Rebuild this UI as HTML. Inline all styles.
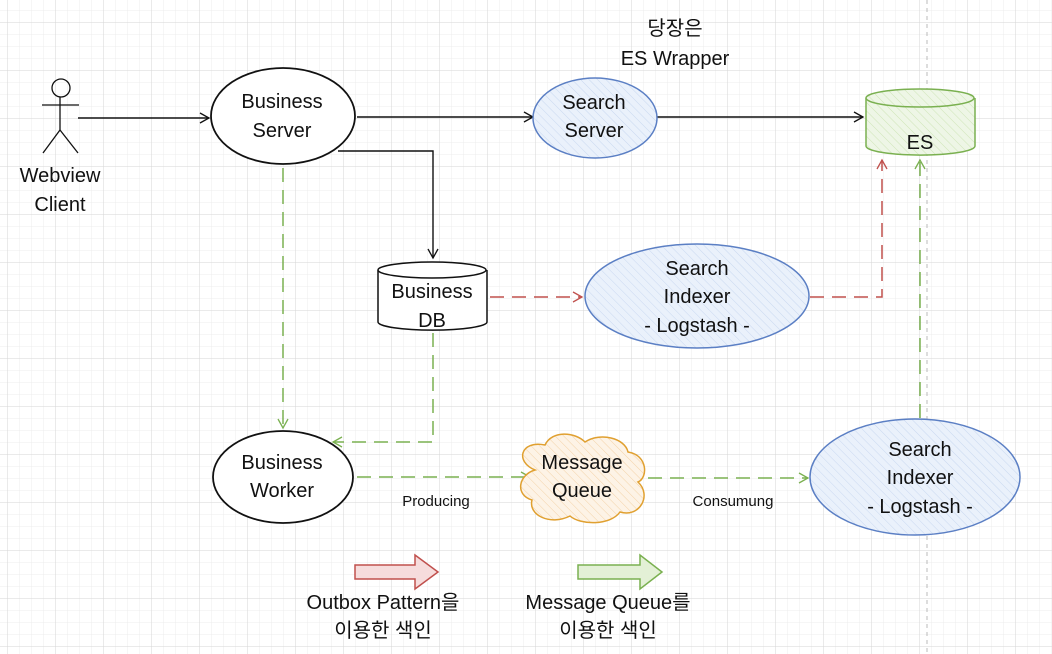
<!DOCTYPE html>
<html><head><meta charset="utf-8"><style>
html,body{margin:0;padding:0;background:#fff;width:1052px;height:654px;overflow:hidden}
text{font-family:"Liberation Sans","Noto Sans CJK KR",sans-serif;fill:#111}
</style></head><body>
<svg width="1052" height="654" viewBox="0 0 1052 654" xmlns="http://www.w3.org/2000/svg">
<defs>
<pattern id="minor" width="12" height="12" patternUnits="userSpaceOnUse" x="7" y="22">
<path d="M0 0H12M0 0V12" stroke="#ececec" stroke-width="1" fill="none"/></pattern>
<pattern id="major" width="48" height="48" patternUnits="userSpaceOnUse" x="7" y="22">
<path d="M0 0H48M0 0V48" stroke="#d6d6d6" stroke-width="1" fill="none"/></pattern>
<pattern id="hb" width="6" height="6" patternUnits="userSpaceOnUse" patternTransform="rotate(-45)">
<rect width="6" height="6" fill="#eaf1fb"/><line x1="0" y1="0" x2="0" y2="6" stroke="#c9d8f0" stroke-width="1"/></pattern>
<pattern id="ho" width="6" height="6" patternUnits="userSpaceOnUse" patternTransform="rotate(-45)">
<rect width="6" height="6" fill="#fdf3e6"/><line x1="0" y1="0" x2="0" y2="6" stroke="#f3d2a8" stroke-width="1"/></pattern>
<pattern id="hg" width="6" height="6" patternUnits="userSpaceOnUse" patternTransform="rotate(-45)">
<rect width="6" height="6" fill="#eef6e6"/><line x1="0" y1="0" x2="0" y2="6" stroke="#cfe5b8" stroke-width="1"/></pattern>
<marker id="ak" markerWidth="12" markerHeight="12" refX="10" refY="6" orient="auto" markerUnits="userSpaceOnUse"><path d="M1 1L10 6L1 11" fill="none" stroke="#111" stroke-width="1.3"/></marker>
<marker id="ag" markerWidth="12" markerHeight="12" refX="10" refY="6" orient="auto" markerUnits="userSpaceOnUse"><path d="M1 1L10 6L1 11" fill="none" stroke="#7ab050" stroke-width="1.3"/></marker>
<marker id="ar" markerWidth="12" markerHeight="12" refX="10" refY="6" orient="auto" markerUnits="userSpaceOnUse"><path d="M1 1L10 6L1 11" fill="none" stroke="#c0504d" stroke-width="1.3"/></marker>
</defs>
<rect width="1052" height="654" fill="url(#minor)"/>
<rect width="1052" height="654" fill="url(#major)"/>
<line x1="927" y1="0" x2="927" y2="654" stroke="#bbb" stroke-dasharray="4 4"/>

<g stroke="#111" stroke-width="1.3" fill="none">
<ellipse cx="61" cy="88" rx="9" ry="9"/>
<line x1="60" y1="97" x2="60" y2="130"/>
<line x1="42" y1="105" x2="79" y2="105"/>
<path d="M60 130L43 153M60 130L78 153"/>
</g>
<text x="60" y="182" font-size="20" text-anchor="middle">Webview</text>
<text x="60" y="211" font-size="20" text-anchor="middle">Client</text>

<g stroke="#111" stroke-width="1.4" fill="none">
<line x1="78" y1="118" x2="209" y2="118" marker-end="url(#ak)"/>
<line x1="357" y1="117" x2="533" y2="117" marker-end="url(#ak)"/>
<line x1="657" y1="117" x2="863" y2="117" marker-end="url(#ak)"/>
<path d="M338 151H433V258" marker-end="url(#ak)"/>
</g>

<g stroke="#7ab050" stroke-width="1.5" fill="none" stroke-dasharray="14 8">
<line x1="283" y1="168" x2="283" y2="428" marker-end="url(#ag)"/>
<path d="M433 333V442H333" marker-end="url(#ag)"/>
<line x1="357" y1="477" x2="530" y2="477" marker-end="url(#ag)"/>
<line x1="648" y1="478" x2="808" y2="478" marker-end="url(#ag)"/>
<line x1="920" y1="418" x2="920" y2="160" marker-end="url(#ag)"/>
</g>
<g stroke="#c0504d" stroke-width="1.5" fill="none" stroke-dasharray="14 8">
<line x1="490" y1="297" x2="582" y2="297" marker-end="url(#ar)"/>
<path d="M810 297H882V160" marker-end="url(#ar)"/>
</g>

<ellipse cx="283" cy="116" rx="72" ry="48" fill="#fff" stroke="#111" stroke-width="1.8"/>
<text x="282" y="108" font-size="20" text-anchor="middle">Business</text>
<text x="282" y="137" font-size="20" text-anchor="middle">Server</text>

<ellipse cx="595" cy="118" rx="62" ry="40" fill="url(#hb)" stroke="#5b7fc4" stroke-width="1.5"/>
<text x="594" y="109" font-size="20" text-anchor="middle">Search</text>
<text x="594" y="137" font-size="20" text-anchor="middle">Server</text>

<text x="675" y="35" font-size="20" text-anchor="middle">당장은</text>
<text x="675" y="65" font-size="20" text-anchor="middle">ES Wrapper</text>

<path d="M866 98V146A54 9 0 0 0 975 146V98" fill="url(#hg)" stroke="#7ab050" stroke-width="1.5"/>
<ellipse cx="920" cy="98" rx="54" ry="9" fill="url(#hg)" stroke="#7ab050" stroke-width="1.5"/>
<text x="920" y="149" font-size="20" text-anchor="middle">ES</text>

<path d="M378 270V322A54 8 0 0 0 487 322V270" fill="#fff" stroke="#111" stroke-width="1.5"/>
<ellipse cx="432" cy="270" rx="54" ry="8" fill="#fff" stroke="#111" stroke-width="1.5"/>
<text x="432" y="298" font-size="20" text-anchor="middle">Business</text>
<text x="432" y="327" font-size="20" text-anchor="middle">DB</text>

<ellipse cx="697" cy="296" rx="112" ry="52" fill="url(#hb)" stroke="#5b7fc4" stroke-width="1.5"/>
<text x="697" y="275" font-size="20" text-anchor="middle">Search</text>
<text x="697" y="303" font-size="20" text-anchor="middle">Indexer</text>
<text x="697" y="332" font-size="20" text-anchor="middle">- Logstash -</text>

<ellipse cx="283" cy="477" rx="70" ry="46" fill="#fff" stroke="#111" stroke-width="1.8"/>
<text x="282" y="469" font-size="20" text-anchor="middle">Business</text>
<text x="282" y="497" font-size="20" text-anchor="middle">Worker</text>

<path d="M535 470C515 462 520 440 545 445C552 430 575 432 585 442C600 432 625 438 628 452C648 455 648 478 638 482C652 495 640 518 620 512C610 526 580 525 570 516C550 526 528 515 532 500C515 495 518 475 535 470Z" fill="url(#ho)" stroke="#e0a030" stroke-width="1.5"/>
<text x="582" y="469" font-size="20" text-anchor="middle">Message</text>
<text x="582" y="497" font-size="20" text-anchor="middle">Queue</text>

<text x="436" y="506" font-size="15" text-anchor="middle">Producing</text>
<text x="733" y="506" font-size="15" text-anchor="middle">Consumung</text>

<ellipse cx="915" cy="477" rx="105" ry="58" fill="url(#hb)" stroke="#5b7fc4" stroke-width="1.5"/>
<text x="920" y="456" font-size="20" text-anchor="middle">Search</text>
<text x="920" y="484" font-size="20" text-anchor="middle">Indexer</text>
<text x="920" y="513" font-size="20" text-anchor="middle">- Logstash -</text>

<path d="M355 565H415V555L438 572L415 589V579H355Z" fill="#f6dcdc" stroke="#c0504d" stroke-width="1.5"/>
<path d="M578 565H640V555L662 572L640 589V579H578Z" fill="#e3f0d6" stroke="#7ab050" stroke-width="1.5"/>
<text x="383" y="609" font-size="20" text-anchor="middle">Outbox Pattern을</text>
<text x="383" y="637" font-size="20" text-anchor="middle">이용한 색인</text>
<text x="608" y="609" font-size="20" text-anchor="middle">Message Queue를</text>
<text x="608" y="637" font-size="20" text-anchor="middle">이용한 색인</text>
</svg>
</body></html>
